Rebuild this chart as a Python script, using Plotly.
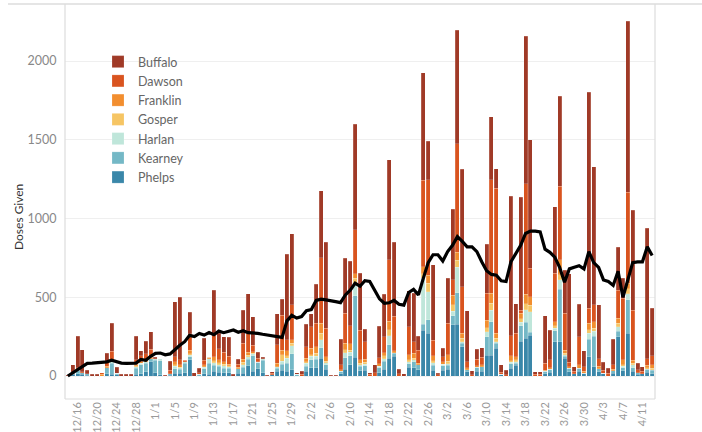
import pandas as pd
import plotly.graph_objects as go

# ---- data -------------------------------------------------------------
dates = pd.date_range("2020-12-14", "2021-04-13", freq="D")

buffalo = [4, 45, 200, 140, 20, 10, 10, 0, 50, 180, 40, 10, 10, 10, 150, 30, 80, 110, 10, 0,
           5, 60, 349, 398, 0, 137, 20, 30, 140, 0, 275, 100, 100, 120, 10, 30, 212, 250, 180, 38,
           10, 5, 10, 197, 100, 544, 451, 10, 20, 144, 81, 249, 424, 546, 5, 5, 163, 349, 410, 670,
           360, 80, 11, 50, 200, 270, 635, 470, 30, 13, 228, 307, 89, 683, 245, 477, 10, 55, 286, 448,
           720, 747, 324, 25, 65, 60, 311, 400, 124, 45, 30, 883, 189, 716, 936, 815, 15, 15, 301, 190,
           423, 572, 275, 560, 30, 205, 100, 1373, 878, 340, 50, 30, 160, 271, 127, 1083, 635, 40, 30, 830,
           300]
dawson = [0, 5, 14, 8, 0, 0, 0, 10, 30, 50, 0, 0, 0, 0, 30, 40, 40, 50, 0, 0,
          0, 20, 30, 30, 10, 106, 0, 10, 30, 0, 148, 70, 60, 50, 0, 20, 100, 120, 40, 20,
          0, 0, 10, 117, 222, 70, 222, 0, 10, 74, 137, 149, 416, 180, 0, 0, 30, 191, 115, 280,
          190, 110, 10, 20, 40, 100, 392, 220, 14, 0, 180, 74, 85, 550, 604, 100, 9, 30, 200, 96,
          690, 296, 40, 9, 40, 50, 170, 720, 921, 15, 8, 127, 148, 20, 700, 180, 12, 12, 42, 50,
          307, 465, 233, 30, 15, 180, 30, 95, 106, 50, 20, 19, 30, 180, 390, 580, 318, 20, 15, 40,
          60]
franklin = [0, 0, 5, 0, 0, 0, 0, 10, 10, 10, 0, 0, 0, 0, 10, 10, 10, 10, 0, 0,
            0, 0, 20, 15, 0, 21, 0, 0, 10, 10, 25, 20, 15, 10, 0, 10, 20, 20, 10, 5,
            0, 0, 0, 20, 30, 30, 21, 0, 0, 21, 42, 40, 64, 30, 0, 0, 10, 40, 40, 30,
            20, 20, 0, 0, 15, 20, 53, 10, 0, 0, 32, 32, 10, 44, 53, 30, 0, 15, 40, 63,
            50, 32, 10, 0, 10, 10, 50, 64, 32, 0, 0, 32, 21, 34, 60, 55, 0, 0, 8, 8,
            27, 96, 21, 10, 0, 20, 10, 42, 42, 15, 0, 0, 10, 32, 30, 35, 20, 0, 0, 15,
            20]
gosper = [0, 0, 0, 0, 0, 0, 0, 0, 0, 5, 0, 0, 0, 0, 5, 0, 0, 0, 0, 0,
          0, 0, 10, 5, 0, 10, 0, 0, 5, 0, 15, 10, 10, 5, 0, 0, 15, 10, 5, 0,
          0, 0, 0, 0, 40, 15, 15, 0, 0, 10, 10, 20, 40, 10, 0, 0, 0, 20, 15, 30,
          10, 10, 0, 0, 0, 20, 38, 0, 0, 0, 10, 10, 0, 30, 53, 15, 0, 0, 15, 40,
          45, 20, 0, 0, 0, 0, 25, 42, 21, 0, 0, 10, 11, 25, 40, 40, 0, 0, 0, 0,
          15, 31, 10, 0, 0, 0, 0, 20, 20, 0, 0, 0, 0, 20, 10, 30, 10, 0, 0, 10,
          10]
harlan = [0, 0, 0, 0, 0, 0, 0, 0, 0, 10, 0, 0, 0, 0, 10, 10, 10, 0, 10, 10,
          0, 0, 15, 10, 10, 10, 0, 0, 10, 30, 15, 10, 15, 10, 0, 0, 15, 15, 10, 0,
          10, 0, 0, 10, 20, 32, 53, 0, 0, 20, 21, 20, 53, 10, 0, 0, 0, 30, 20, 80,
          10, 10, 0, 0, 10, 15, 57, 5, 0, 0, 15, 10, 0, 290, 179, 15, 0, 10, 10, 30,
          160, 12, 0, 0, 0, 0, 30, 74, 10, 0, 0, 10, 10, 20, 80, 130, 0, 0, 0, 0,
          15, 60, 10, 0, 0, 0, 0, 40, 30, 0, 0, 0, 0, 30, 10, 40, 20, 0, 0, 0,
          5]
kearney = [0, 10, 20, 10, 10, 0, 0, 0, 38, 70, 10, 0, 0, 0, 39, 55, 55, 20, 80, 90,
           0, 10, 30, 25, 60, 20, 0, 10, 30, 70, 38, 40, 30, 30, 0, 30, 40, 40, 100, 40,
           80, 0, 0, 20, 40, 53, 100, 10, 0, 30, 50, 53, 66, 30, 0, 0, 15, 75, 60, 390,
           30, 30, 0, 0, 30, 50, 87, 20, 0, 0, 20, 40, 30, 40, 86, 30, 0, 30, 25, 57,
           200, 20, 15, 0, 25, 30, 117, 212, 32, 0, 0, 30, 12, 100, 100, 20, 0, 0, 15, 20,
           70, 334, 12, 20, 0, 20, 0, 110, 193, 20, 0, 0, 15, 34, 20, 212, 20, 10, 0, 20,
           20]
phelps = [0, 10, 15, 10, 5, 0, 0, 0, 15, 11, 7, 0, 0, 0, 10, 15, 27, 90, 20, 8,
          0, 5, 16, 17, 20, 102, 0, 0, 15, 10, 30, 23, 20, 20, 0, 16, 17, 66, 30, 47,
          20, 0, 7, 30, 35, 29, 40, 0, 0, 31, 53, 53, 112, 43, 0, 0, 15, 42, 70, 120,
          32, 36, 0, 0, 22, 44, 112, 124, 0, 0, 57, 52, 40, 290, 270, 38, 0, 36, 44, 324,
          330, 187, 26, 0, 30, 30, 133, 133, 176, 10, 0, 48, 69, 220, 240, 259, 0, 0, 15, 24,
          218, 218, 112, 28, 14, 30, 19, 123, 60, 26, 17, 0, 18, 250, 33, 271, 31, 10, 14, 23,
          15]

# 7-day average line
avg_line = [0, 20, 45, 62, 80, 82, 84, 85, 90, 100, 92, 82, 80, 80, 82, 105, 100, 125, 144, 146,
            135, 140, 170, 195, 218, 258, 250, 270, 260, 276, 262, 285, 275, 282, 292, 278, 287, 275, 275, 271,
            265, 260, 255, 247, 245, 350, 385, 368, 377, 415, 422, 480, 488, 483, 480, 472, 466, 515, 545, 590,
            570, 605, 600, 545, 490, 462, 465, 480, 455, 450, 530, 550, 515, 620, 720, 770, 770, 730, 790, 830,
            885, 855, 820, 820, 790, 725, 668, 645, 640, 605, 600, 725, 775, 830, 905, 920, 920, 915, 805, 785,
            755, 690, 595, 680, 690, 700, 680, 790, 720, 690, 610, 600, 575, 665, 500, 615, 720, 725, 725, 820,
            765]

counties = ["Phelps", "Kearney", "Harlan", "Gosper", "Franklin", "Dawson", "Buffalo"]
series = [phelps, kearney, harlan, gosper, franklin, dawson, buffalo]
colors = ["#3a87a9", "#74b8c6", "#bfe6da", "#f6c564", "#f28e2f", "#d9541f", "#a03a27"]

tick_text = ["12/16", "12/20", "12/24", "12/28", "1/1", "1/5", "1/9", "1/13", "1/17", "1/21",
             "1/25", "1/29", "2/2", "2/6", "2/10", "2/14", "2/18", "2/22", "2/26", "3/2",
             "3/6", "3/10", "3/14", "3/18", "3/22", "3/26", "3/30", "4/3", "4/7", "4/11"]
y_ticks = [0, 500, 1000, 1500, 2000]

# ---- figure -----------------------------------------------------------
tick_vals = [pd.Timestamp(("2020/" if t.startswith("12/") else "2021/") + t) for t in tick_text]

FONT = "Lato, 'Open Sans', sans-serif"
fig = go.Figure()
n = len(counties)
for k, (name, vals, col) in enumerate(zip(counties, series, colors)):
    fig.add_trace(go.Bar(
        x=dates, y=vals, name=name, legendgroup=name, legendrank=n - k,
        marker=dict(color=col, line=dict(color="rgba(255,255,255,0.45)", width=0.4)),
    ))

fig.add_trace(go.Scatter(
    x=dates, y=avg_line, mode="lines", showlegend=False,
    line=dict(color="#000000", width=3.2),
))

W, H = 702, 432
L, R, T, B = 65, 655, 4, 399
PX = 2000 / 315.0  # value units per pixel
y0_px = 376
fig.update_layout(
    width=W, height=H,
    margin=dict(l=L, r=W - R, t=T, b=H - B, autoexpand=False),
    barmode="stack", bargap=0.18,
    plot_bgcolor="white", paper_bgcolor="white",
    font=dict(family=FONT, size=12, color="#555"),
    legend=dict(
        x=(98 - L) / (R - L), y=(B - 47) / (B - T), xanchor="left", yanchor="top",
        traceorder="grouped", tracegroupgap=0,
        font=dict(family=FONT, size=12.5, color="#666"),
        bgcolor="rgba(0,0,0,0)", itemclick=False,
    ),
    xaxis=dict(
        range=[pd.Timestamp("2020-12-14") - pd.Timedelta(hours=14),
               pd.Timestamp("2021-04-13") + pd.Timedelta(hours=14)],
        tickvals=tick_vals, ticktext=tick_text, tickangle=-90,
        tickfont=dict(family=FONT, size=11, color="#9a9a9a"),
        showgrid=False, zeroline=False, showline=False, ticks="",
    ),
    yaxis=dict(
        range=[-(B - y0_px) * PX, (y0_px - T) * PX], tickvals=y_ticks,
        tickfont=dict(family=FONT, size=12.5, color="#888"),
        showgrid=True, gridcolor="#efefef", gridwidth=1,
        zeroline=False, showline=False,
        ticks="outside", ticklen=5, tickcolor="rgba(0,0,0,0)",
    ),
    showlegend=True,
)

# pane borders
border = "#dcdcdc"
fig.add_shape(type="line", xref="paper", yref="paper", x0=0, x1=0, y0=0, y1=1,
              line=dict(color=border, width=1.2))
fig.add_shape(type="line", xref="paper", yref="paper", x0=1, x1=1, y0=0, y1=1,
              line=dict(color=border, width=1.2))
fig.add_shape(type="line", xref="paper", yref="paper", x0=0, x1=1, y0=0, y1=0,
              line=dict(color=border, width=1.2))
fig.add_shape(type="line", xref="paper", yref="paper",
              x0=(8 - L) / (R - L), x1=(W - L) / (R - L), y0=1, y1=1,
              line=dict(color=border, width=1.5))

fig.add_annotation(
    text="Doses Given", xref="paper", yref="paper",
    x=(18 - L) / (R - L), y=(B - 217) / (B - T), textangle=-90, showarrow=False,
    font=dict(family=FONT, size=12, color="#333"), xanchor="center", yanchor="middle",
)

fig.write_html("out.html", config={"displayModeBar": False},
               post_script="document.body.style.margin='0px';")
